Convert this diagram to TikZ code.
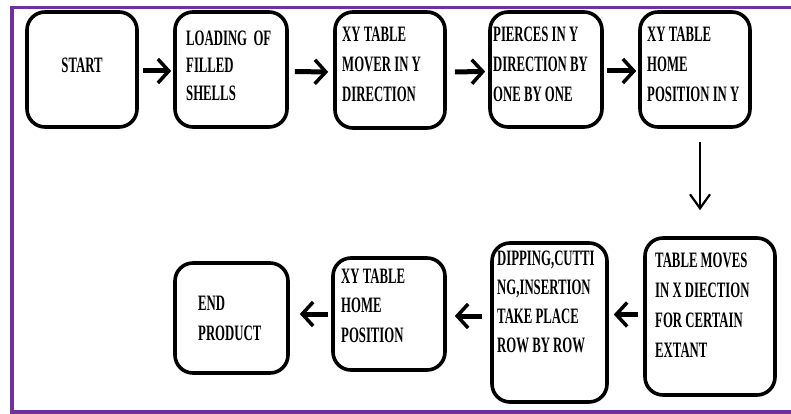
\documentclass[tikz,border=0pt]{standalone}
\usepackage{fontspec}
\setmainfont[FakeStretch=0.58]{Liberation Serif}
\usetikzlibrary{arrows.meta,calc}
\definecolor{framepurple}{RGB}{112,48,160}
\begin{document}
\begin{tikzpicture}[x=1pt,y=-1pt,
  box/.style={draw, line width=3.6pt, rounded corners=18pt, inner sep=0pt},
  txt/.style={font=\bfseries\fontsize{22}{30}\selectfont, align=left, inner sep=0pt, anchor=north west},
  arr/.style={line width=5pt, -{Straight Barb[length=11pt,width=24pt,line width=3.5pt]}},
  arrd/.style={line width=2.2pt, -{Straight Barb[length=14pt,width=20pt,line width=2.2pt]}}]
\useasboundingbox (0,0) rectangle (791,414);
\fill[white] (0,0) rectangle (791,414);
% frame
\draw[framepurple, line width=3.8pt] (791,7.5) -- (12,7.5) -- (12,412) -- (791,412);
% boxes
\node[box, minimum width=110pt, minimum height=115pt] (b1) at (82,69.5) {};
\node[box, minimum width=112pt, minimum height=115pt] (b2) at (231,69.5) {};
\node[box, minimum width=110pt, minimum height=116pt] (b3) at (390,70) {};
\node[box, minimum width=112pt, minimum height=115pt] (b4) at (546,69.5) {};
\node[box, minimum width=110pt, minimum height=115pt] (b5) at (695,69.5) {};
\node[box, minimum width=130pt, minimum height=157pt] (b6) at (710,316.5) {};
\node[box, minimum width=115pt, minimum height=159pt] (b7) at (549.5,322.5) {};
\node[box, minimum width=112pt, minimum height=112pt] (b8) at (389,314) {};
\node[box, minimum width=113pt, minimum height=110pt] (b9) at (231.5,318) {};
% texts
\node[txt, anchor=base] (t1) at (82,73) {START};
\node[txt, font=\bfseries\fontsize{22}{27.5}\selectfont] (t2) at (186,30.6) {LOADING\ \ OF\\FILLED\\SHELLS};
\node[txt] (t3) at (342,26.6) {XY TABLE\\MOVER IN Y\\DIRECTION};
\node[txt] (t4) at (493,26.6) {PIERCES IN Y\\DIRECTION BY\\ONE BY ONE};
\node[txt] (t5) at (647,26.6) {XY TABLE\\HOME\\POSITION IN Y};
\node[txt] (t6) at (655,252.6) {TABLE MOVES\\IN X DIECTION\\FOR CERTAIN\\EXTANT};
\node[txt, font=\bfseries\fontsize{22}{29}\selectfont] (t7) at (497,250.6) {DIPPING,CUTTI\\NG,INSERTION\\TAKE PLACE\\ROW BY ROW};
\node[txt, font=\bfseries\fontsize{22}{29.5}\selectfont] (t8) at (341,268.6) {XY TABLE\\HOME\\POSITION};
\node[txt] (t9) at (198,295.6) {END\\PRODUCT};
% arrows
\draw[arr, shorten <=4pt, shorten >=2pt] ([yshift=-1.5pt]b1.east) -- ([yshift=-1.5pt]b2.west);
\draw[arr, shorten <=6pt, shorten >=5pt] ([yshift=-2pt]b2.east) -- ([yshift=-2pt]b3.west);
\draw[arr, shorten <=8pt, shorten >=3pt] ([yshift=-2pt]b3.east) -- ([yshift=-2pt]b4.west);
\draw[arr, shorten <=3pt, shorten >=2pt] ([yshift=-1.5pt]b4.east) -- ([yshift=-1.5pt]b5.west);
\draw[arrd] ($(b5.south)+(5,13)$) -- ($(b6.north)+(-10,-26)$);
\draw[arr, shorten <=5pt, shorten >=5pt] ($(b6.west)+(0,-2)$) -- ($(b7.east|-b6.west)+(0,-2)$);
\draw[arr, shorten <=8pt, shorten >=8pt] ($(b7.west|-b8.east)+(0,2)$) -- ($(b8.east)+(0,2)$);
\draw[arr, shorten <=3pt, shorten >=10pt] ($(b8.west)+(0,0)$) -- ($(b9.east|-b8.west)$);
\end{tikzpicture}
\end{document}
